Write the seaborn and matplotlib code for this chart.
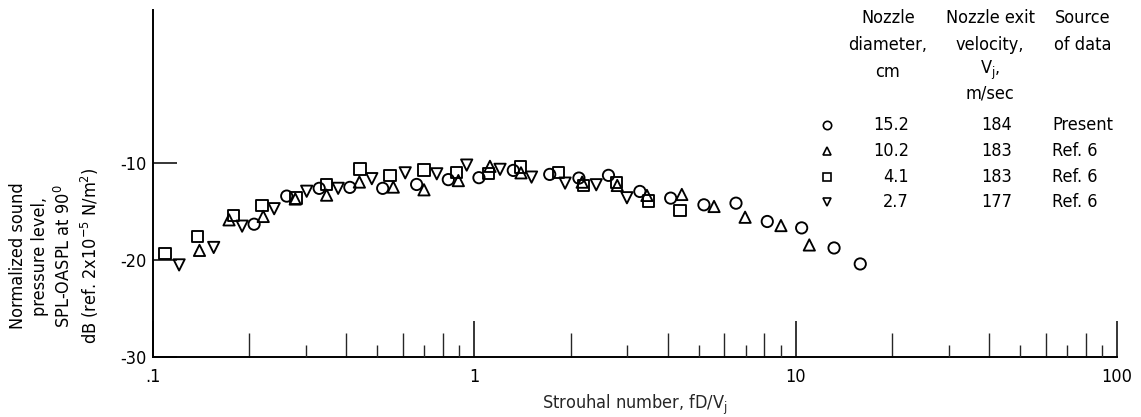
import numpy as np
import pandas as pd
import matplotlib
matplotlib.use("Agg")
import matplotlib.pyplot as plt
import seaborn as sns
from matplotlib.lines import Line2D
from matplotlib.ticker import FixedLocator, FixedFormatter, NullFormatter
from matplotlib import font_manager

# ---------------- data ----------------
circle_x = [0.207, 0.2615, 0.330, 0.411, 0.520, 0.663, 0.832, 1.036, 1.325, 1.72,
            2.12, 2.62, 3.28, 4.09, 5.19, 6.53, 8.17, 10.45, 13.18, 15.9]
circle_y = [-16.3, -13.4, -12.6, -12.5, -12.6, -12.2, -11.7, -11.5, -10.75, -11.16,
            -11.54, -11.26, -12.92, -13.61, -14.3, -14.13, -16.02, -16.68, -18.75, -20.4]

tri_up_x = [0.140, 0.173, 0.221, 0.278, 0.348, 0.440, 0.561, 0.699, 0.894, 1.121,
            1.40, 2.17, 2.79, 3.45, 4.43, 5.58, 6.97, 9.01, 11.04]
tri_up_y = [-19.0, -15.85, -15.5, -13.7, -13.3, -11.95, -12.47, -12.75, -11.8, -10.33,
            -11.0, -11.96, -12.3, -13.33, -13.23, -14.47, -15.58, -16.44, -18.44]

square_x = [0.1094, 0.138, 0.179, 0.219, 0.2795, 0.348, 0.442, 0.548, 0.699, 0.884,
            1.108, 1.397, 1.83, 2.19, 2.78, 3.49, 4.37]
square_y = [-19.3, -17.6, -15.4, -14.4, -13.6, -12.2, -10.6, -11.26, -10.7, -11.0,
            -11.1, -10.4, -11.0, -12.3, -11.96, -13.92, -14.89]

tri_dn_x = [0.121, 0.155, 0.190, 0.239, 0.3017, 0.378, 0.481, 0.611, 0.766, 0.949,
            1.205, 1.51, 1.92, 2.40, 2.99]
tri_dn_y = [-20.5, -18.7, -16.5, -14.7, -12.9, -12.6, -11.6, -11.0, -11.1, -10.2,
            -10.64, -11.44, -12.06, -12.23, -13.57]

series_names = ["15.2", "10.2", "4.1", "2.7"]
diameters = ["15.2", "10.2", "4.1", "2.7"]
velocities = ["184", "183", "183", "177"]
sources = ["Present", "Ref. 6", "Ref. 6", "Ref. 6"]
marker_styles = ["o", "^", "s", "v"]

x_major = [0.1, 1, 10, 100]
x_major_labels = [".1", "1", "10", "100"]
y_ticks = [-30, -20, -10]
y_tick_labels = ["-30", "-20", "-10"]

# ---------------- build frame ----------------
frames = []
for name, xs, ys in zip(series_names,
                        [circle_x, tri_up_x, square_x, tri_dn_x],
                        [circle_y, tri_up_y, square_y, tri_dn_y]):
    frames.append(pd.DataFrame({"St": xs, "SPL": ys, "series": name}))
df = pd.concat(frames, ignore_index=True)

# ---------------- style ----------------
sns.set_theme(style="white")
names = {f.name for f in font_manager.fontManager.ttflist}
cond = [f for f in font_manager.fontManager.ttflist
        if f.name == "DejaVu Sans" and str(f.stretch) in ("condensed", "semi-condensed")]
if "Liberation Sans Narrow" in names:
    FONT = ["Liberation Sans Narrow", "DejaVu Sans"]
    STRETCH = "normal"
    FS = 13.5
elif cond:
    FONT = ["DejaVu Sans"]
    STRETCH = "condensed"
    FS = 13
else:
    FONT = ["DejaVu Sans"]
    STRETCH = "normal"
    FS = 11.5
plt.rcParams["font.family"] = FONT
plt.rcParams["font.stretch"] = STRETCH
plt.rcParams["text.color"] = "black"

W, H = 1141, 417
fig = plt.figure(figsize=(W / 100, H / 100), dpi=100)
def fx(px):
    return px / W
def fy(py):
    return 1 - py / H

ax = fig.add_axes([fx(152.5), fy(357), fx(1117) - fx(152.5), fy(10) - fy(357)])

sns.scatterplot(data=df, x="St", y="SPL", style="series",
                markers=dict(zip(series_names, marker_styles)),
                s=66, color="black", facecolors="none", edgecolor="black",
                linewidth=1.35, legend=False, ax=ax)

ax.set_xscale("log")
ax.set_xlim(0.1, 100)
ax.set_ylim(-30, 5.8)

ax.xaxis.set_major_locator(FixedLocator(x_major))
ax.xaxis.set_major_formatter(FixedFormatter(x_major_labels))
minor_long = [m * d for d in (0.1, 1, 10) for m in (2, 4, 6, 8)]
ax.xaxis.set_minor_locator(FixedLocator(minor_long))
ax.xaxis.set_minor_formatter(NullFormatter())
ax.tick_params(axis="x", which="major", direction="in", length=26, width=1.1,
               pad=8, labelsize=FS, colors="black", bottom=True)
ax.tick_params(axis="x", which="minor", direction="in", length=17, width=1.0,
               bottom=True)

ax.yaxis.set_major_locator(FixedLocator(y_ticks))
ax.yaxis.set_major_formatter(FixedFormatter(y_tick_labels))
ax.tick_params(axis="y", which="major", direction="in", length=17, width=1.1,
               pad=4, labelsize=FS, colors="black", left=True)
ax.tick_params(axis="y", which="minor", left=False)

# short minor ticks (3,5,7,9) on a twin axis
ax2 = ax.twiny()
ax2.set_xscale("log")
ax2.set_xlim(0.1, 100)
minor_short = [m * d for d in (0.1, 1, 10) for m in (3, 5, 7, 9)]
ax2.xaxis.set_ticks_position("bottom")
ax2.xaxis.set_major_locator(FixedLocator(minor_short))
ax2.xaxis.set_major_formatter(NullFormatter())
ax2.xaxis.set_minor_locator(FixedLocator([]))
ax2.tick_params(axis="x", which="major", direction="in", length=8.5, width=1.0,
                bottom=True, top=False, labelbottom=False, labeltop=False)
for sp in ax2.spines.values():
    sp.set_visible(False)

for side in ("top", "right"):
    ax.spines[side].set_visible(False)
for side in ("left", "bottom"):
    ax.spines[side].set_color("black")
    ax.spines[side].set_linewidth(1.4)

ax.set_xlabel("Strouhal number, fD/V$_\\mathregular{j}$", fontsize=FS, labelpad=5)
ax.set_ylabel("")

fig.text(fx(55), fy(256),
         "Normalized sound\npressure level,\nSPL-OASPL at 90$^\\mathregular{0}$\n"
         "dB (ref. 2x10$^\\mathregular{-5}$ N/m$^\\mathregular{2}$)",
         rotation=90, ha="center", va="center", multialignment="center",
         fontsize=FS, linespacing=1.3)

# ---------------- legend table ----------------
for txt, y in [("Nozzle", 18), ("diameter,", 45), ("cm", 72)]:
    fig.text(fx(888), fy(y), txt, ha="center", va="center", fontsize=FS)
for txt, y in [("Nozzle exit", 18), ("velocity,", 45),
               ("V$_\\mathregular{j}$,", 70), ("m/sec", 93)]:
    fig.text(fx(990), fy(y), txt, ha="center", va="center", fontsize=FS)
for txt, y in [("Source", 18), ("of data", 45)]:
    fig.text(fx(1083), fy(y), txt, ha="center", va="center", fontsize=FS)

row_y = [125, 151, 177, 202]
for mk, d, v, s, y in zip(marker_styles, diameters, velocities, sources, row_y):
    fig.add_artist(Line2D([fx(827)], [fy(y)], marker=mk, markersize=6,
                          markerfacecolor="none", markeredgecolor="black",
                          markeredgewidth=1.2, linestyle="none",
                          transform=fig.transFigure))
    fig.text(fx(909), fy(y), d, ha="right", va="center", fontsize=FS)
    fig.text(fx(997), fy(y), v, ha="center", va="center", fontsize=FS)
    fig.text(fx(1052), fy(y), s, ha="left", va="center", fontsize=FS)

fig.savefig("out.png", dpi=100, facecolor="white")
